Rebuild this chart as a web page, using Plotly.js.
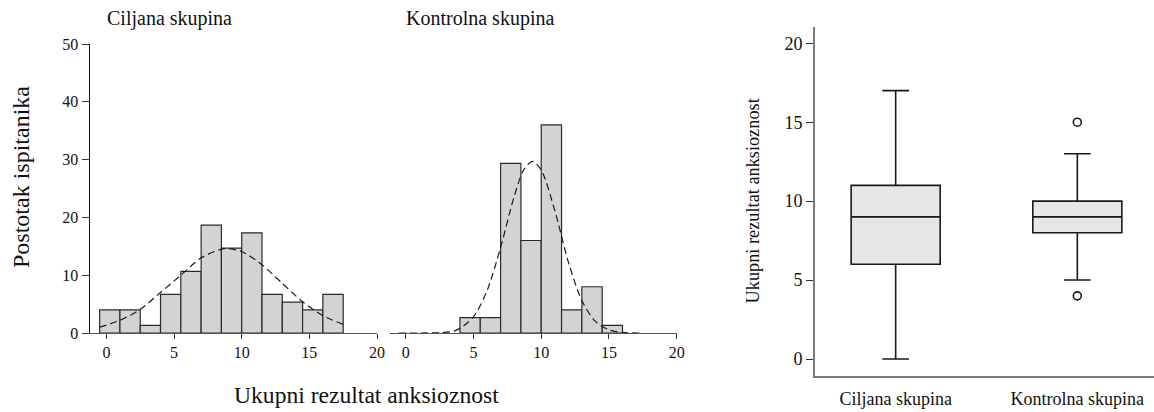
<!DOCTYPE html>
<html>
<head>
<meta charset="utf-8">
<script src="https://cdn.plot.ly/plotly-3.0.1.min.js"></script>
<style>
html,body{margin:0;padding:0;background:#fff;}
#chart{width:1154px;height:412px;}
</style>
</head>
<body>
<div id="chart"></div>
<script>
// ---- data ----
const binWidth = 1.5;
const ciljBinEdges = [-0.5, 1, 2.5, 4, 5.5, 7, 8.5, 10, 11.5, 13, 14.5, 16];
const ciljPercent = [4.0, 4.0, 1.33, 6.67, 10.67, 18.67, 14.67, 17.33, 6.67, 5.33, 4.0, 6.67];
const kontBinEdges = [4, 5.5, 7, 8.5, 10, 11.5, 13, 14.5];
const kontPercent = [2.67, 2.67, 29.33, 16.0, 36.0, 4.0, 8.0, 1.33];

const ciljCurveX = [-0.5, 1, 2.5, 4, 5.5, 7, 8.5, 9, 10, 11.5, 13, 14.5, 16, 17.5];
const ciljCurveY = [1.0, 2.2, 4.1, 7.0, 10.0, 13.0, 14.5, 14.6, 14.1, 11.8, 8.6, 5.4, 3.0, 1.5];
const kontCurveX = [-0.5, 1, 2.5, 3.5, 4, 5, 6, 7, 8, 8.7, 9.35, 10, 11, 12, 13, 14, 15, 16, 17.5];
const kontCurveY = [0, 0, 0.05, 0.3, 0.8, 2.8, 7.3, 14.8, 23.6, 28.2, 29.7, 28.2, 21.2, 12.3, 5.6, 2.0, 0.55, 0.1, 0];

const groups = ['Ciljana skupina', 'Kontrolna skupina'];
const boxQ1 = [6, 8];
const boxMedian = [9, 9];
const boxQ3 = [11, 10];
const boxLower = [0, 5];
const boxUpper = [17, 13];
const outlierGroup = ['Kontrolna skupina', 'Kontrolna skupina'];
const outlierValue = [15, 4];

const histTitles = ['Ciljana skupina', 'Kontrolna skupina'];
const yTitleHist = 'Postotak ispitanika';
const xTitleHist = 'Ukupni rezultat anksioznost';
const yTitleBox = 'Ukupni rezultat anksioznost';

// ---- drawing ----
const W = 1154, H = 412;
const px = v => v / W;
const py = v => (H - v) / H;
const FONT = 'Liberation Serif';

const barStyle = {color: '#d3d3d3', line: {color: '#2a2a2a', width: 1.2}};
const curveStyle = {color: '#1a1a1a', width: 1.2, dash: '7px,4px', shape: 'spline', smoothing: 0.8};

const traces = [
  {type: 'bar', x: ciljBinEdges, y: ciljPercent, width: binWidth, offset: 0,
   marker: barStyle, xaxis: 'x', yaxis: 'y', hoverinfo: 'skip'},
  {type: 'scatter', mode: 'lines', x: ciljCurveX, y: ciljCurveY,
   line: curveStyle, xaxis: 'x', yaxis: 'y', hoverinfo: 'skip'},
  {type: 'bar', x: kontBinEdges, y: kontPercent, width: binWidth, offset: 0,
   marker: barStyle, xaxis: 'x2', yaxis: 'y2', hoverinfo: 'skip'},
  {type: 'scatter', mode: 'lines', x: kontCurveX, y: kontCurveY,
   line: curveStyle, xaxis: 'x2', yaxis: 'y2', hoverinfo: 'skip'}
];

for (let i = 0; i < groups.length; i++) {
  traces.push({
    type: 'box', x: [groups[i]], q1: [boxQ1[i]], median: [boxMedian[i]], q3: [boxQ3[i]],
    lowerfence: [boxLower[i]], upperfence: [boxUpper[i]],
    width: 0.49, whiskerwidth: 0.3, boxpoints: false,
    fillcolor: '#e6e6e6', line: {color: '#1a1a1a', width: 1.6},
    xaxis: 'x3', yaxis: 'y3', hoverinfo: 'skip'
  });
}
traces.push({
  type: 'scatter', mode: 'markers', x: outlierGroup, y: outlierValue,
  marker: {symbol: 'circle-open', size: 8, color: '#1a1a1a', line: {width: 1.6}},
  xaxis: 'x3', yaxis: 'y3', hoverinfo: 'skip'
});

const histX = (dom) => ({
  domain: dom, range: [-1.25, 20], tickvals: [0, 5, 10, 15, 20],
  showline: true, linecolor: '#555', linewidth: 1,
  ticks: 'outside', ticklen: 5, tickcolor: '#333', tickwidth: 1,
  showgrid: false, zeroline: false,
  tickfont: {family: FONT, size: 16, color: '#111'}
});

const layout = {
  width: W, height: H,
  margin: {l: 0, r: 0, t: 0, b: 0},
  paper_bgcolor: '#fff', plot_bgcolor: 'rgba(0,0,0,0)',
  showlegend: false, barmode: 'overlay',
  font: {family: FONT, color: '#111'},
  xaxis: Object.assign(histX([px(89.5), px(377)]), {anchor: 'y'}),
  yaxis: {domain: [py(333), py(44)], range: [0, 50], anchor: 'x',
    tickvals: [0, 10, 20, 30, 40, 50],
    showline: true, linecolor: '#111', linewidth: 1,
    ticks: 'outside', ticklen: 7, tickcolor: '#333',
    showgrid: false, zeroline: false,
    tickfont: {family: FONT, size: 16, color: '#111'}},
  xaxis2: Object.assign(histX([px(389.5), px(676.7)]), {anchor: 'y2', range: [-1.2, 20]}),
  yaxis2: {domain: [py(333), py(44)], range: [0, 50], anchor: 'x2',
    visible: false},
  xaxis3: {domain: [px(815), 1], range: [-0.444, 1.422], anchor: 'y3',
    type: 'category', categoryorder: 'array', categoryarray: groups,
    showline: true, linecolor: '#7a7a7a', linewidth: 2,
    ticks: '', ticklabelstandoff: 5, showgrid: false, zeroline: false,
    tickfont: {family: FONT, size: 18, color: '#111'}},
  yaxis3: {domain: [py(376), py(26.7)], range: [-1.077, 21.05], anchor: 'x3',
    tickvals: [0, 5, 10, 15, 20],
    showline: true, linecolor: '#7a7a7a', linewidth: 2,
    ticks: 'outside', ticklen: 7, tickcolor: '#333',
    showgrid: false, zeroline: false,
    tickfont: {family: FONT, size: 18, color: '#111'}},
  annotations: [
    {text: histTitles[0], xref: 'paper', yref: 'paper', x: px(105), y: py(18.5),
     xanchor: 'left', yanchor: 'middle', showarrow: false,
     font: {family: FONT, size: 20, color: '#111'}},
    {text: histTitles[1], xref: 'paper', yref: 'paper', x: px(404), y: py(18.5),
     xanchor: 'left', yanchor: 'middle', showarrow: false,
     font: {family: FONT, size: 20, color: '#111'}},
    {text: yTitleHist, xref: 'paper', yref: 'paper', x: px(20.5), y: py(177.5),
     xanchor: 'center', yanchor: 'middle', textangle: -90, showarrow: false,
     font: {family: FONT, size: 24, color: '#111'}},
    {text: xTitleHist, xref: 'paper', yref: 'paper', x: px(366), y: py(394.5),
     xanchor: 'center', yanchor: 'middle', showarrow: false,
     font: {family: FONT, size: 23.6, color: '#111'}},
    {text: yTitleBox, xref: 'paper', yref: 'paper', x: px(752.6), y: py(200.8),
     xanchor: 'center', yanchor: 'middle', textangle: -90, showarrow: false,
     font: {family: FONT, size: 18.3, color: '#111'}}
  ]
};

Plotly.newPlot('chart', traces, layout, {staticPlot: true, displayModeBar: false});
</script>
</body>
</html>
